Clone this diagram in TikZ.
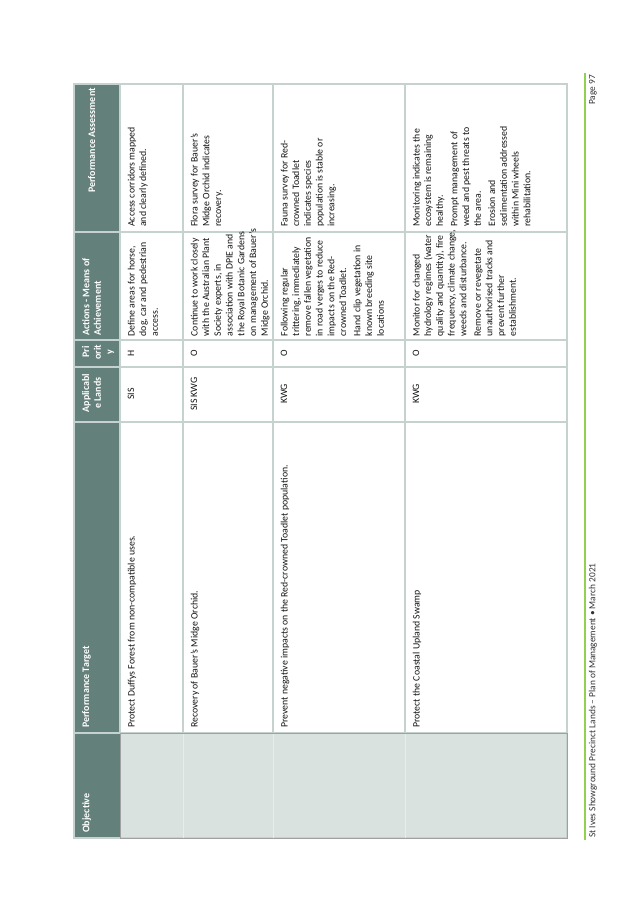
\documentclass[tikz,border=0pt]{standalone}
\usepackage{fontspec}
\setmainfont{Carlito}
\definecolor{hdr}{RGB}{99,128,122}
\definecolor{objfill}{RGB}{217,226,223}
\definecolor{gridc}{RGB}{197,210,207}
\definecolor{objline}{RGB}{160,160,160}
\definecolor{objsep}{RGB}{232,237,235}
\definecolor{txt}{RGB}{20,20,20}
\definecolor{footc}{RGB}{146,208,80}
\definecolor{foottxt}{RGB}{50,50,50}
\begin{document}
\begin{tikzpicture}[x=0.33mm,y=0.33mm,
  body/.style={anchor=north west, inner sep=0pt, align=left, text=txt, font=\fontsize{9.2}{11}\selectfont},
  bodyc/.style={anchor=north, inner sep=0pt, align=center, text=txt, font=\fontsize{9.2}{11}\selectfont},
  head/.style={anchor=north west, inner sep=0pt, align=left, text=white, font=\fontsize{9.4}{11}\selectfont\bfseries},
  headc/.style={anchor=north, inner sep=0pt, align=center, text=white, font=\fontsize{9.4}{11}\selectfont\bfseries},
  gridline/.style={draw=gridc, line width=1pt},
  objborder/.style={draw=objline, line width=0.9pt},
  objrow/.style={draw=objsep, line width=0.9pt},
  foottext/.style={inner sep=0pt, text=foottxt, font=\fontsize{8.8}{10}\selectfont}]
\useasboundingbox (0,0) rectangle (638,900);
\fill[white] (0,0) rectangle (638,900);
\begin{scope}[shift={(638,0)}, rotate=90, transform shape]
  % fills
  \fill[hdr] (62,518) rectangle (816,564);
  \fill[objfill] (62,71) rectangle (167,518);
  % grid lines
  \foreach \u in {167,478,533,560,668} \draw[gridline] (\u,71) -- (\u,564);
  \foreach \v in {455,365,233} \draw[gridline] (167,\v) -- (816,\v);
  \draw[gridline] (167,518) -- (816,518);
  \draw[gridline] (62,71) rectangle (816,564);
  \foreach \v in {455,365,233} \draw[objrow] (62,\v) -- (167,\v);
  \draw[objborder] (62,71) rectangle (167,518);
  % header texts
  \node[head] (hObj) at (67,556) {Objective};
  \node[head] (hTarget) at (172,556) {Performance Target};
  \node[headc] (hLands) at (507,556) {Applicabl\\e Lands};
  \node[headc] (hPri) at (548,556) {Pri\\orit\\y};
  \node[head] (hAct) at (564,556) {Actions - Means of\\Achievement};
  \node[head, anchor=north east] (hAss) at (812,550) {Performance Assessment};
  % row 1
  \node[body] (t1) at (172,510.5) {Protect Duffys Forest from non-compatible uses.};
  \node[bodyc] (l1) at (506,510.5) {SIS};
  \node[bodyc] (p1) at (547,510.5) {H};
  \node[body] (a1) at (563.5,510.5) {Define areas for horse,\\dog, car and pedestrian\\access.};
  \node[body] (s1) at (673,510.5) {Access corridors mapped\\and clearly defined.};
  % row 2
  \node[body] (t2) at (172,447.5) {Recovery of Bauer’s Midge Orchid.};
  \node[bodyc] (l2) at (506,447.5) {SIS KWG};
  \node[bodyc] (p2) at (547,447.5) {O};
  \node[body] (a2) at (563.5,447.5) {Continue to work closely\\with the Australian Plant\\Society experts, in\\association with DPIE and\\the Royal Botanic Gardens\\on management of Bauer’s\\Midge Orchid.};
  \node[body] (s2) at (673,447.5) {Flora survey for Bauer’s\\Midge Orchid indicates\\recovery.};
  % row 3
  \node[body] (t3) at (172,357.5) {Prevent negative impacts on the Red-crowned Toadlet population.};
  \node[bodyc] (l3) at (506,357.5) {KWG};
  \node[bodyc] (p3) at (547,357.5) {O};
  \node[body] (a3) at (563.5,357.5) {Following regular\\trittering, immediately\\remove fallen vegetation\\in road verges to reduce\\impacts on the Red-\\crowned Toadlet.\\[2.5pt]Hand clip vegetation in\\known breeding site\\locations};
  \node[body] (s3) at (673,357.5) {Fauna survey for Red-\\crowned Toadlet\\indicates species\\population is stable or\\increasing.};
  % row 4
  \node[body] (t4) at (172,225.5) {Protect the Coastal Upland Swamp};
  \node[bodyc] (l4) at (506,225.5) {KWG};
  \node[bodyc] (p4) at (547,225.5) {O};
  \node[body] (a4) at (563.5,225.5) {Monitor for changed\\hydrology regimes (water\\quality and quantity), fire\\frequency, climate change,\\weeds and disturbance.\\[2.5pt]Remove or revegetate\\unauthorised tracks and\\prevent further\\establishment.};
  \node[body] (s4) at (673,225.5) {Monitoring indicates the\\ecosystem is remaining\\healthy.\\[2.5pt]Prompt management of\\weed and pest threats to\\the area.\\[2.5pt]Erosion and\\sedimentation addressed\\within Mini wheels\\rehabilitation.};
  % footer
  \draw[draw=footc, line width=1.6pt] (60,53) -- (827,53);
  \node[foottext, anchor=west] (fl) at (62,45) {St Ives Showground Precinct Lands – Plan of Management • March 2021};
  \node[foottext, anchor=east] (fr) at (825,45) {Page 97};
\end{scope}
\end{tikzpicture}
\end{document}
